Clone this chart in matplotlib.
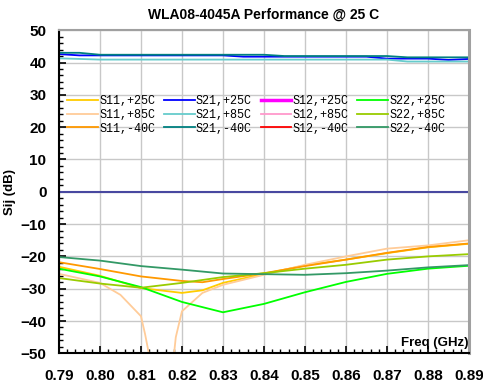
import matplotlib.pyplot as plt
import numpy as np

# frequency grids (GHz)
f_s11 = [0.79, 0.80, 0.81, 0.82, 0.825, 0.83, 0.84, 0.85, 0.86, 0.87, 0.88, 0.89]
f_s85 = [0.79, 0.80, 0.805, 0.81, 0.811, 0.812, 0.815, 0.818, 0.8185, 0.82, 0.825,
         0.83, 0.84, 0.85, 0.86, 0.87, 0.88, 0.89]
f_s22 = [0.79, 0.80, 0.81, 0.82, 0.83, 0.84, 0.85, 0.86, 0.87, 0.88, 0.89]

# S11 (dB)
s11_25 = [-23.2, -26.0, -29.8, -31.3, -30.5, -28.2, -25.4, -22.8, -21.0, -19.0, -17.2, -16.1]
s11_85 = [-25.4, -28.2, -31.9, -38.5, -44.0, -50.5, -65.0, -51.0, -45.0, -37.0, -31.3,
          -28.8, -25.7, -22.6, -20.0, -17.6, -16.6, -15.0]
s11_m40 = [-21.8, -23.9, -26.2, -27.6, -28.0, -27.0, -25.2, -23.0, -21.0, -18.9, -17.1, -16.0]

# S22 (dB)
s22_25 = [-23.8, -26.2, -29.5, -34.1, -37.3, -34.7, -31.1, -27.9, -25.4, -23.8, -22.9]
s22_85 = [-26.7, -28.4, -29.7, -28.2, -26.4, -25.2, -23.8, -22.6, -21.0, -20.0, -19.3]
s22_m40 = [-20.2, -21.3, -23.0, -24.1, -25.3, -25.5, -25.7, -25.2, -24.4, -23.4, -22.7]

# S21 (dB)
f_s21 = [0.79, 0.795, 0.80, 0.83, 0.835, 0.84, 0.845, 0.865, 0.87, 0.875, 0.88, 0.885, 0.89]
s21_25 = [42.6, 42.2, 42.2, 42.2, 41.8, 41.8, 41.8, 41.8, 41.2, 41.2, 41.2, 40.8, 41.1]
s21_85 = [41.3, 41.1, 40.9, 40.9, 40.9, 40.9, 40.9, 40.9, 40.9, 40.3, 40.3, 40.3, 40.3]
s21_m40 = [43.0, 43.0, 42.4, 42.4, 42.4, 42.4, 42.0, 42.0, 42.0, 41.6, 41.6, 41.6, 41.6]

fig = plt.figure(figsize=(4.83, 3.87), dpi=100)
ax = fig.add_axes([0.122, 0.087, 0.849, 0.835])

ax.axhline(0, color='#4848a0', lw=1.5, zorder=1)

ax.plot(f_s11, s11_25, color='#ffcc00', lw=1.3, label='S11,+25C')
ax.plot(f_s85, s11_85, color='#ffcc99', lw=1.3, label='S11,+85C')
ax.plot(f_s11, s11_m40, color='#ff9900', lw=1.3, label='S11,-40C')
ax.plot(f_s21, s21_25, color='#0000ff', lw=1.3, label='S21,+25C')
ax.plot(f_s21, s21_85, color='#66cccc', lw=1.3, label='S21,+85C')
ax.plot(f_s21, s21_m40, color='#008080', lw=1.3, label='S21,-40C')
# S12 traces are not visible on this scale, only in the legend
ax.plot([], [], color='#ff00ff', lw=2.5, label='S12,+25C')
ax.plot([], [], color='#ff99cc', lw=1.3, label='S12,+85C')
ax.plot([], [], color='#ff0000', lw=1.3, label='S12,-40C')
ax.plot(f_s22, s22_25, color='#00ff00', lw=1.3, label='S22,+25C')
ax.plot(f_s22, s22_85, color='#99cc00', lw=1.3, label='S22,+85C')
ax.plot(f_s22, s22_m40, color='#339966', lw=1.3, label='S22,-40C')

ax.set_xlim(0.79, 0.89)
ax.set_ylim(-50, 50)
ax.set_xticks(np.arange(0.79, 0.8901, 0.01))
ax.set_xticks(np.arange(0.79, 0.8901, 0.002), minor=True)
ax.set_yticks(np.arange(-50, 51, 10))
ax.set_yticks(np.arange(-50, 51, 2), minor=True)
ax.set_xticklabels(['%.2f' % v for v in np.arange(0.79, 0.8901, 0.01)])
ax.grid(True, which='major', color='#c8c8c8', lw=1.0)
ax.set_axisbelow(True)

ax.tick_params(which='both', direction='in', top=False, right=False, color='black')
ax.tick_params(which='major', length=5, width=1.2)
ax.tick_params(which='minor', length=3, width=1.0)
ax.tick_params(axis='x', pad=11, labelsize=11)
ax.tick_params(axis='y', pad=9, labelsize=11)
for lab in ax.get_xticklabels() + ax.get_yticklabels():
    lab.set_fontweight('bold')
    lab.set_fontfamily('Liberation Sans')

ax.spines['left'].set_color('black')
ax.spines['left'].set_linewidth(1.5)
ax.spines['bottom'].set_color('black')
ax.spines['bottom'].set_linewidth(1.5)
ax.spines['right'].set_color('#a0a0a0')
ax.spines['right'].set_linewidth(2.2)
ax.spines['top'].set_color('#a0a0a0')
ax.spines['top'].set_linewidth(1.5)

ax.set_title('WLA08-4045A Performance @ 25 C', fontsize=10, fontweight='bold',
             family='Liberation Sans', pad=8)
ax.set_ylabel('Sij (dB)', fontsize=9.5, fontweight='bold', family='Liberation Sans')
ax.yaxis.set_label_coords(-0.105, 0.5)
ax.text(0.998, 0.012, 'Freq (GHz)', transform=ax.transAxes, ha='right', va='bottom',
        fontsize=9.5, fontweight='bold', family='Liberation Sans')

leg = ax.legend(ncol=4, loc='upper left', bbox_to_anchor=(0.0, 0.825), frameon=False,
                prop={'family': 'Liberation Mono', 'size': 8.5}, handlelength=2.6,
                handletextpad=0.1, columnspacing=0.75, labelspacing=0.15, borderaxespad=0.3)

fig.savefig('out.png', dpi=100)
